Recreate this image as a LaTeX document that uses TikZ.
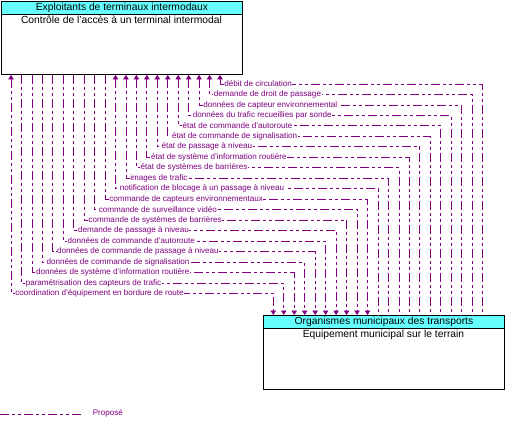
\documentclass[tikz,border=0pt]{standalone}
\usepackage{fontspec}
\setmainfont{Liberation Sans}
\usetikzlibrary{arrows.meta,calc}
\definecolor{flowc}{RGB}{128,0,128}
\definecolor{hdrc}{RGB}{102,255,255}
\tikzset{
  boxbody/.style={draw=black, line width=0.9pt, fill=white, inner sep=0pt, anchor=north west, minimum width=241pt, minimum height=73pt},
  boxhead/.style={draw=black, line width=0.9pt, fill=hdrc, inner sep=0pt, anchor=north west, minimum width=241pt, minimum height=13pt, font=\fontsize{10.3}{11}\selectfont},
  boxtext/.style={inner sep=0pt, font=\fontsize{10.3}{11}\selectfont},
  flow/.style={draw=flowc, line width=0.8pt, dash pattern=on 9pt off 3pt on 3pt off 3pt on 3pt off 3pt},
  lbl/.style={text=flowc, fill=white, inner sep=0.6pt, anchor=west, font=\fontsize{8.1}{9}\selectfont},
  tip/.style={-{Triangle[width=5.5pt,length=4.5pt]}}
}
\begin{document}
\begin{tikzpicture}[x=1pt,y=-1pt]
\useasboundingbox (0,0) rectangle (512,429);
% boxes
\node[boxbody] (top) at (1,1) {};
\node[boxhead] (toph) at (1,1) {Exploitants de terminaux intermodaux};
\node[boxtext] (topt) at (121.5,20) {Contrôle de l'accès à un terminal intermodal};
\node[boxbody, minimum height=74pt] (bot) at (263,315) {};
\node[boxhead] (both) at (263,315) {Organismes municipaux des transports};
\node[boxtext] (bott) at (383.5,334) {Équipement municipal sur le terrain};
% flows
\foreach \t [count=\i from 0] in {
 débit de circulation,
 demande de droit de passage,
 données de capteur environnemental,
 données du trafic recueillies par sonde,
 état de commande d'autoroute,
 état de commande de signalisation,
 état de passage à niveau,
 état de système d'information routière,
 état de systèmes de barrières,
 images de trafic,
 notification de blocage à un passage à niveau,
 commande de capteurs environnementaux,
 commande de surveillance vidéo,
 commande de systèmes de barrières,
 demande de passage à niveau,
 données de commande d'autoroute,
 données de commande de passage à niveau,
 données de commande de signalisation,
 données de système d'information routière,
 paramétrisation des capteurs de trafic,
 coordination d'équipement en bordure de route}{
  \pgfmathsetmacro\xt{220-\i*10.45}
  \pgfmathsetmacro\yy{84+\i*10.47}
  \pgfmathsetmacro\xb{482.7-\i*10.47}
  \ifnum\i<11
    \draw[flow, {Triangle[width=5.5pt,length=4.5pt]}-] (top.south -| \xt,0) |- (\xb,\yy) -- (bot.north -| \xb,0);
  \else\ifnum\i<20
    \draw[flow, tip] (top.south -| \xt,0) |- (\xb,\yy) -- (bot.north -| \xb,0);
  \else
    \draw[flow, {Triangle[width=5.5pt,length=4.5pt]}-{Triangle[width=5.5pt,length=4.5pt]}] (top.south -| \xt,0) |- (\xb,\yy) -- (bot.north -| \xb,0);
  \fi\fi
  \node[lbl] (l\i) at (\xt+3.5,\yy) {\t};
}
% legend
\coordinate (lga) at (0,414);
\coordinate (lgb) at (81,414);
\draw[flow] (lga) -- (lgb);
\node[lbl, fill=none] (lgt) at (92,413.5) {Proposé};
\end{tikzpicture}
\end{document}
